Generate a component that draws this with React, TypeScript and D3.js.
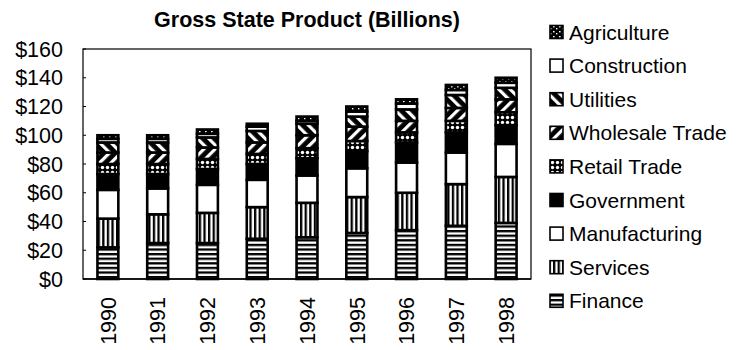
import React from "react";
import * as d3 from "d3";

const years = ["1990", "1991", "1992", "1993", "1994", "1995", "1996", "1997", "1998"];
const finance = [22, 25, 25, 28, 29, 32, 34, 37, 39];
const services = [20, 20, 21, 22, 24, 25, 26, 29, 32];
const manufacturing = [20, 18, 19.5, 19, 19, 20, 21, 22, 23];
const government = [11, 10, 11, 11, 12, 12, 14, 14, 13];
const retail = [7, 7, 7, 7, 7, 7, 7, 8, 9];
const wholesale = [8, 8, 8, 8, 9, 10, 8, 9, 9];
const utilities = [7, 7, 7, 8, 8, 7, 8, 9, 8];
const construction = [2.5, 2.5, 2.5, 3, 2, 3.5, 4, 3.5, 3.5];
const agriculture = [2.5, 2.5, 3, 2, 3, 3.5, 3, 3.5, 3.5];
const seriesNames = ["Finance", "Services", "Manufacturing", "Government", "Retail Trade", "Wholesale Trade", "Utilities", "Construction", "Agriculture"];
const seriesValues = [finance, services, manufacturing, government, retail, wholesale, utilities, construction, agriculture];
const yTicks = [0, 20, 40, 60, 80, 100, 120, 140, 160];
const title = "Gross State Product (Billions)";

const fills: Record<string, string> = {
  Finance: "url(#pFin)",
  Services: "url(#pSer)",
  Manufacturing: "#fff",
  Government: "#000",
  "Retail Trade": "url(#pRet)",
  "Wholesale Trade": "url(#pWho)",
  Utilities: "url(#pUti)",
  Construction: "#fff",
  Agriculture: "url(#pAgr)",
};

export default function App() {
  const W = 739, H = 350;
  const left = 83, right = 531, top = 49, bottom = 279;
  const font = "'Liberation Sans', Arial, Helvetica, sans-serif";

  const rows = years.map((yr, i) => {
    const r: any = { year: yr };
    seriesNames.forEach((s, k) => (r[s] = seriesValues[k][i]));
    return r;
  });
  const stacked = d3.stack().keys(seriesNames)(rows);

  const x = d3.scaleBand().domain(years).range([left, right]).paddingInner(0.58).paddingOuter(0.29);
  const y = d3.scaleLinear().domain([0, 160]).range([bottom, top]);

  const legendNames = [...seriesNames].reverse();

  return (
    <svg width={W} height={H} style={{ position: "absolute", left: 0, top: 0, background: "#fff" }}>
      <defs>
        <pattern id="pFin" patternUnits="userSpaceOnUse" width="10" height="4.6">
          <rect width="10" height="4.6" fill="#fff" />
          <rect width="10" height="2.3" fill="#000" />
        </pattern>
        <pattern id="pSer" patternUnits="userSpaceOnUse" width="4.6" height="10" x="1">
          <rect width="4.6" height="10" fill="#fff" />
          <rect width="2.3" height="10" fill="#000" />
        </pattern>
        <pattern id="pRet" patternUnits="userSpaceOnUse" width="5" height="5">
          <rect width="5" height="5" fill="#000" />
          <circle cx="2.5" cy="2.5" r="1.7" fill="#fff" />
        </pattern>
        <pattern id="pWho" patternUnits="userSpaceOnUse" width="8" height="8" patternTransform="rotate(45)">
          <rect width="8" height="8" fill="#000" />
          <rect width="3.2" height="8" fill="#fff" />
        </pattern>
        <pattern id="pUti" patternUnits="userSpaceOnUse" width="8" height="8" patternTransform="rotate(-45)">
          <rect width="8" height="8" fill="#000" />
          <rect width="3.2" height="8" fill="#fff" />
        </pattern>
        <pattern id="pAgr" patternUnits="userSpaceOnUse" width="6" height="5">
          <rect width="6" height="5" fill="#000" />
          <rect x="1" y="1" width="1.6" height="1.4" fill="#fff" />
          <rect x="4" y="3" width="1.4" height="1.4" fill="#fff" />
        </pattern>
      </defs>

      <text x={(left + right) / 2} y={27} textAnchor="middle" fontFamily={font} fontWeight="bold" fontSize={21.5}>
        {title}
      </text>

      {/* plot frame */}
      <rect x={left} y={top} width={right - left} height={bottom - top} fill="none" stroke="#000" strokeWidth={1.2} />

      {yTicks.map((t) => (
        <g key={t}>
          <line x1={left} x2={left + 3} y1={y(t)} y2={y(t)} stroke="#000" strokeWidth={1} />
          <text x={63} y={y(t)} dy="0.36em" textAnchor="end" fontFamily={font} fontSize={21.5}>
            {"$" + t}
          </text>
        </g>
      ))}

      {stacked.map((layer) => (
        <g key={layer.key}>
          {layer.map((d: any, i: number) => (
            <rect
              key={i}
              x={x(years[i])!}
              width={x.bandwidth()}
              y={y(d[1])}
              height={y(d[0]) - y(d[1])}
              fill={fills[layer.key]}
              stroke="#000"
              strokeWidth={2.6}
            />
          ))}
        </g>
      ))}

      <line x1={left} x2={right} y1={bottom} y2={bottom} stroke="#000" strokeWidth={1.5} />

      {years.map((yr) => (
        <text
          key={yr}
          transform={`translate(${x(yr)! + x.bandwidth() / 2},297) rotate(-90)`}
          textAnchor="end"
          dy="0.36em"
          fontFamily={font}
          fontSize={21.5}
        >
          {yr}
        </text>
      ))}

      {legendNames.map((s, i) => {
        const cy = 32 + i * 33.6;
        return (
          <g key={s}>
            <rect x={550} y={cy - 6.5} width={13} height={13} fill={fills[s]} stroke="#000" strokeWidth={1.6} />
            <text x={569} y={cy} dy="0.36em" fontFamily={font} fontSize={21}>
              {s}
            </text>
          </g>
        );
      })}
    </svg>
  );
}
